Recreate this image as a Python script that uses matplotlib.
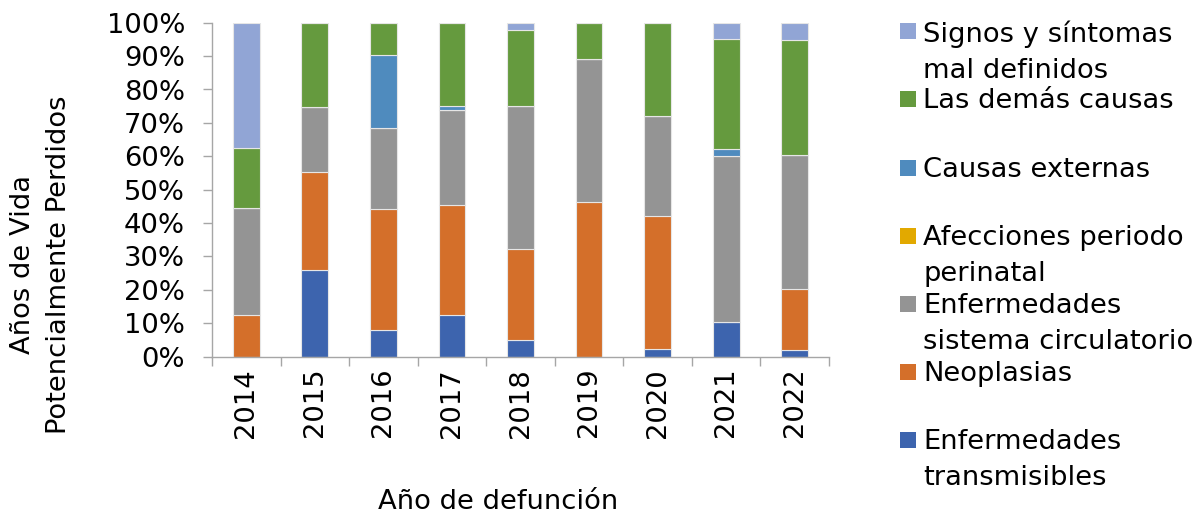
import matplotlib
matplotlib.use('Agg')
import matplotlib.pyplot as plt
from matplotlib.patches import Rectangle
import numpy as np

years = ['2014', '2015', '2016', '2017', '2018', '2019', '2020', '2021', '2022']

# shares in % (bottom to top of the stack)
transmisibles = [0.0, 26.0, 7.9, 12.6, 5.1, 0.0, 2.4, 10.5, 2.1]
neoplasias = [12.4, 29.4, 36.4, 32.9, 27.1, 46.4, 39.8, 0.0, 18.1]
circulatorio = [32.1, 19.3, 24.3, 28.4, 42.8, 42.6, 29.8, 49.5, 40.1]
perinatal = [0.0, 0.0, 0.0, 0.0, 0.0, 0.0, 0.0, 0.0, 0.0]
externas = [0.0, 0.0, 21.8, 1.2, 0.0, 0.0, 0.0, 2.1, 0.0]
demas = [18.0, 25.3, 9.6, 24.9, 22.8, 11.0, 28.0, 33.0, 34.6]
signos = [37.5, 0.0, 0.0, 0.0, 2.2, 0.0, 0.0, 4.9, 5.1]

series = [
    (transmisibles, 'Enfermedades\ntransmisibles', '#3d64ae'),
    (neoplasias, 'Neoplasias', '#d46f2a'),
    (circulatorio, 'Enfermedades\nsistema circulatorio', '#949494'),
    (perinatal, 'Afecciones periodo\nperinatal', '#e2a900'),
    (externas, 'Causas externas', '#4f8bbe'),
    (demas, 'Las demás causas', '#659a3e'),
    (signos, 'Signos y síntomas\nmal definidos', '#91a5d5'),
]

W, H = 1202, 516
fig = plt.figure(figsize=(W / 100, H / 100), dpi=100)
ax = fig.add_axes([212 / W, 1 - 356.7 / H, (829 - 212) / W, (356.7 - 22.7) / H])

fs = 19.7
axcol = '#a6a6a6'
x = np.arange(len(years))
bottom = np.zeros(len(years))
for vals, label, color in series:
    v = np.array(vals)
    ax.bar(x, v, 0.39, bottom=bottom, color=color, edgecolor='#e6e6e6', linewidth=0.8)
    bottom += v

ax.set_xlim(-0.5, len(years) - 0.5)
ax.set_ylim(0, 100)
ax.set_yticks(np.arange(0, 101, 10))
ax.set_yticklabels([f'{t}%' for t in range(0, 101, 10)], fontsize=fs)
ax.set_xticks(np.arange(-0.5, len(years)))
ax.set_xticklabels([])
ax.set_xticks(x, minor=True)
ax.set_xticklabels(years, minor=True, rotation=90, fontsize=fs)
ax.tick_params(axis='y', length=6.5, width=1, color=axcol, pad=13)
ax.tick_params(axis='x', which='major', length=6.5, width=1, color=axcol)
ax.tick_params(axis='x', which='minor', length=0, pad=8)

for s in ['top', 'right']:
    ax.spines[s].set_visible(False)
for s in ['left', 'bottom']:
    ax.spines[s].set_color(axcol)
    ax.spines[s].set_linewidth(1)

fig.text(41 / W, 1 - 265 / H, 'Años de Vida\nPotencialmente Perdidos', rotation=90,
         ha='center', va='center', ma='center', fontsize=fs, linespacing=1.53)
fig.text(498 / W, 1 - 502 / H, 'Año de defunción', ha='center', va='center', fontsize=fs)

# legend, top entry first
centers = [31, 99, 168, 236, 304, 372, 440]
for (vals, label, color), cy in zip(series[::-1], centers):
    fig.patches.append(Rectangle((900 / W, 1 - (cy + 8) / H), 16 / W, 16 / H,
                                 transform=fig.transFigure, facecolor=color, edgecolor='none'))
    fig.text(923 / W, 1 - (cy - 11) / H, label, ha='left', va='top', fontsize=fs, linespacing=1.5)

fig.savefig('out.png', dpi=100)
